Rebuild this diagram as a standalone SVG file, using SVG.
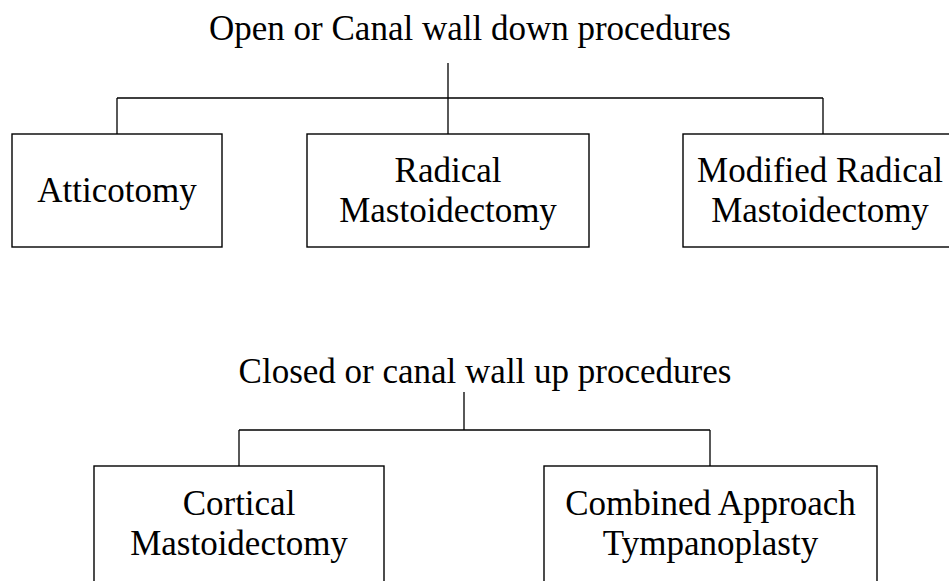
<svg xmlns="http://www.w3.org/2000/svg" width="949" height="581" viewBox="0 0 949 581">
<style>
.box{fill:#fff;stroke:#000;stroke-width:1.4}
.ln{fill:none;stroke:#000;stroke-width:1.3}
text{font-family:"Liberation Serif","Times New Roman",serif;font-size:35px;fill:#000;text-anchor:middle}
</style>
<rect width="949" height="581" fill="#fff"/>
<g id="connectors">
<path class="ln" d="M448 63V134M117 98H823M117 98V134M823 98V134"/>
<path class="ln" d="M464 392V430M239 430H710M239 430V466M710 430V466"/>
</g>
<g id="title-open"><text x="470" y="40">Open or Canal wall down procedures</text></g>
<g id="atticotomy"><rect class="box" x="12" y="134" width="210" height="113"/><text x="117" y="202">Atticotomy</text></g>
<g id="radical"><rect class="box" x="307" y="134" width="282" height="113"/><text x="448" y="182">Radical</text><text x="448" y="222">Mastoidectomy</text></g>
<g id="modified-radical"><rect class="box" x="683" y="134" width="274" height="113"/><text x="820" y="182">Modified Radical</text><text x="820" y="222">Mastoidectomy</text></g>
<g id="title-closed"><text x="485" y="383">Closed or canal wall up procedures</text></g>
<g id="cortical"><rect class="box" x="94" y="466" width="290" height="130"/><text x="239" y="515">Cortical</text><text x="239" y="555">Mastoidectomy</text></g>
<g id="cat"><rect class="box" x="544" y="466" width="333" height="130"/><text x="710.5" y="515">Combined Approach</text><text x="710.5" y="555">Tympanoplasty</text></g>
</svg>
